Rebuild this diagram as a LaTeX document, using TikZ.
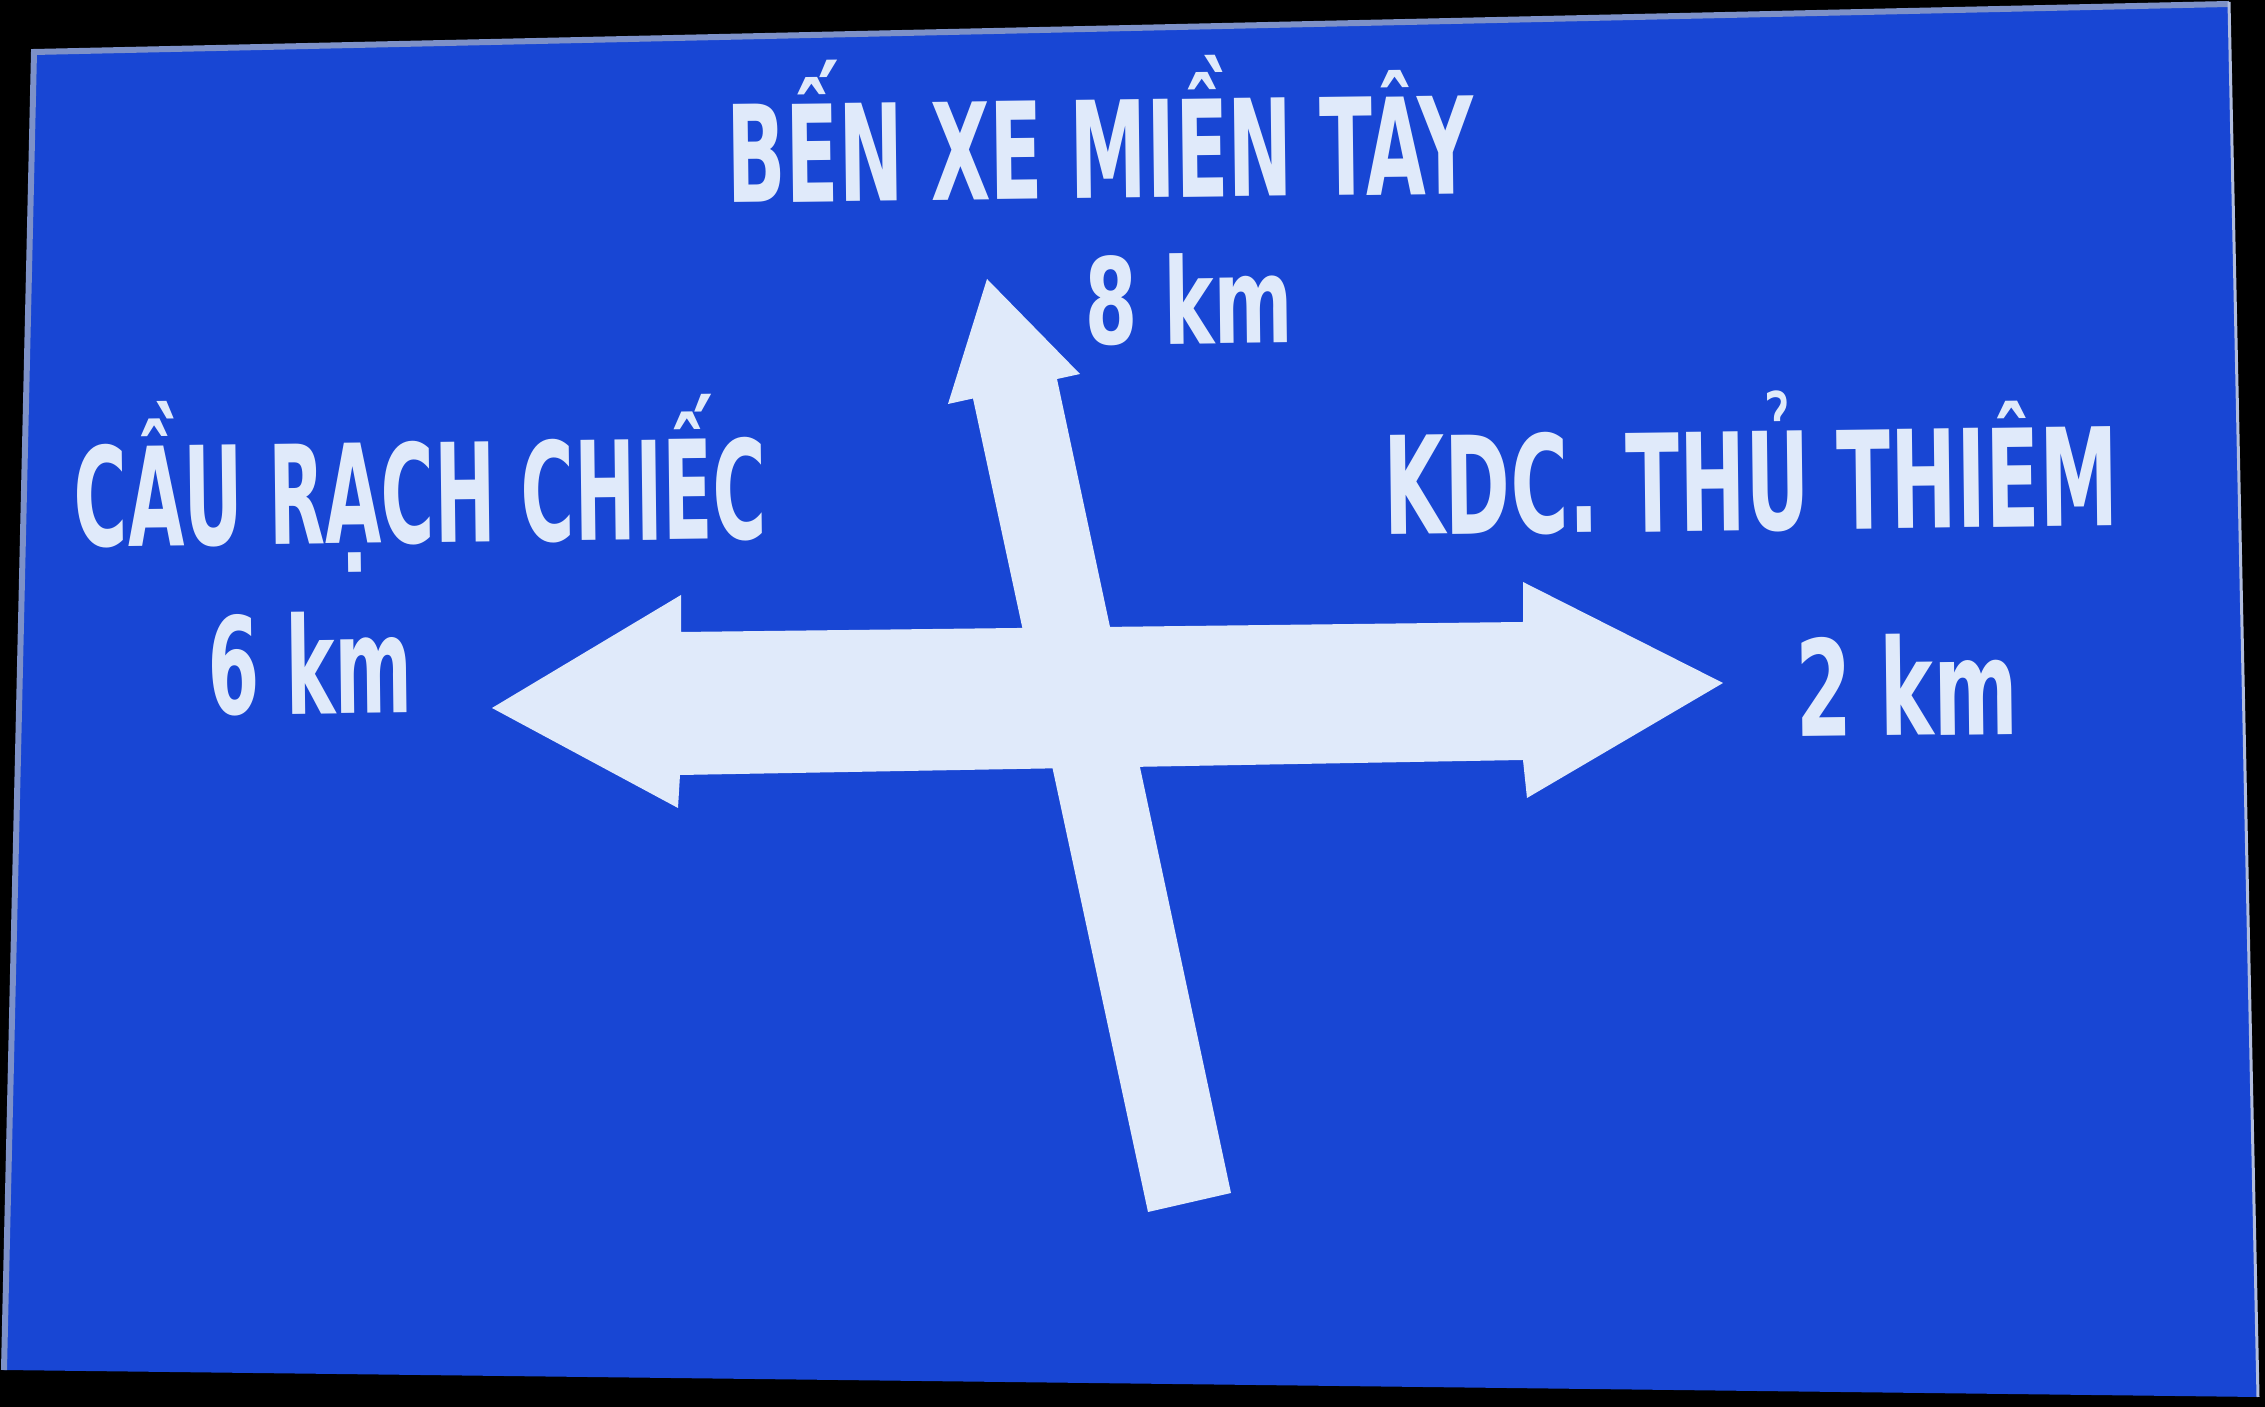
\documentclass[tikz,border=0pt]{standalone}
\usepackage{fontspec}
\IfFontExistsTF{DejaVu Sans Condensed}{\setmainfont{DejaVu Sans Condensed}}{\setmainfont{Fira Sans}}
\usepackage{graphicx}
\definecolor{signblue}{RGB}{24,70,212}
\definecolor{signwhite}{RGB}{224,234,250}
\definecolor{edgegrey}{RGB}{125,145,200}
\newcommand{\signtxt}[3]{\resizebox{#1}{#2}{\raisebox{0pt}[\fontcharht\font`H][0pt]{#3}}}
\tikzset{
  signlabel/.style={inner sep=0pt, anchor=base west, text=signwhite, font=\bfseries, rotate=0.7},
  arrowshape/.style={fill=signwhite}
}
\begin{document}
\begin{tikzpicture}[x=0.01cm,y=-0.01cm]
\useasboundingbox (0,0) rectangle (2265,1407);
\fill[black] (0,0) rectangle (2265,1407);
% sign panel
\fill[signblue] (32,50) -- (2229,2) -- (2258,1397) -- (2,1370) -- cycle;
\draw[edgegrey, line width=0.06cm] (4,1370) -- (34,52) -- (2229,4);
\draw[edgegrey!60!white, line width=0.03cm] (2229,2) -- (2258,1397);
% horizontal double arrow
\fill[arrowshape] (492,708) -- (681,595) -- (681,632) -- (1523,622) -- (1523,582)
  -- (1723,683) -- (1527,798) -- (1523,760) -- (680,775) -- (678,808) -- cycle;
% straight-ahead arrow
\fill[arrowshape] (987,279) -- (1080,374) -- (1057,379) -- (1231,1193)
  -- (1148,1212) -- (973,398.5) -- (948,404) -- cycle;
% labels
\node[signlabel] (ben) at (727,203) {\signtxt{7.46cm}{0.98cm}{BẾN XE MIỀN TÂY}};
\node[signlabel] (km8) at (1085,345) {\signtxt{2.08cm}{0.87cm}{8 km}};
\node[signlabel] (cau) at (74,547) {\signtxt{6.92cm}{1.00cm}{CẦU RẠCH CHIẾC}};
\node[signlabel] (km6) at (208,715) {\signtxt{2.04cm}{0.98cm}{6 km}};
\node[signlabel] (kdc) at (1384,535) {\signtxt{7.34cm}{0.99cm}{KDC. THỦ THIÊM}};
\node[signlabel] (km2) at (1796,737) {\signtxt{2.22cm}{0.97cm}{2 km}};
\end{tikzpicture}
\end{document}
